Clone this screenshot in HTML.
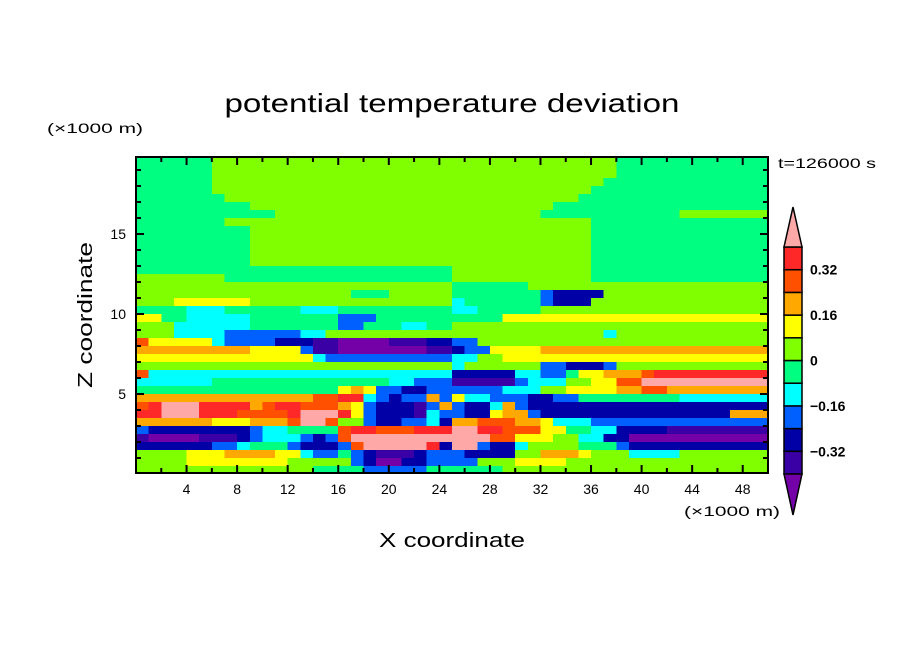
<!DOCTYPE html>
<html><head><meta charset="utf-8"><style>
html,body{margin:0;padding:0;background:#fff;}
svg{display:block;font-family:"Liberation Sans",sans-serif;}
</style></head><body>
<svg id="chart" width="904" height="654" viewBox="0 0 904 654" xmlns="http://www.w3.org/2000/svg">
<defs><clipPath id="plotclip"><rect x="136" y="157" width="632" height="316"/></clipPath></defs>
<rect x="0" y="0" width="904" height="654" fill="#fff"/>
<g id="field" clip-path="url(#plotclip)" shape-rendering="crispEdges"></g>
<g id="axes"></g>
<g id="cbar"></g>
<text x="452" y="112" text-anchor="middle" font-size="26" textLength="455" lengthAdjust="spacingAndGlyphs">potential temperature deviation</text>
<text x="47" y="133" font-size="14" textLength="96" lengthAdjust="spacingAndGlyphs">(×1000 m)</text>
<text x="684" y="516" font-size="14" textLength="96" lengthAdjust="spacingAndGlyphs">(×1000 m)</text>
<text x="452" y="547" text-anchor="middle" font-size="20" textLength="146" lengthAdjust="spacingAndGlyphs">X coordinate</text>
<text x="0" y="0" transform="translate(92,315) rotate(-90)" text-anchor="middle" font-size="20" textLength="146" lengthAdjust="spacingAndGlyphs">Z coordinate</text>
<text x="778" y="168" font-size="14" textLength="98" lengthAdjust="spacingAndGlyphs">t=126000 s</text>
</svg>
<script>
// contour levels (lower bounds of each colour class) and class colours
const levelBounds = [-0.48,-0.40,-0.32,-0.24,-0.16,-0.08,0,0.08,0.16,0.24,0.32,0.40];
const levelColors = ["#7400a8","#3a00a6","#0000a6","#0060ff","#00ffff","#00ff80","#80ff00","#ffff00","#ffa800","#ff5000","#ff2828","#ffa8a8"];
const cbarLabels = [0.32,0.16,0,-0.16,-0.32];
const xTicks = [4,8,12,16,20,24,28,32,36,40,44,48];
const yTicks = [5,10,15];
const xMin = 0, xMax = 50, zMin = 0, zMax = 19.8;
const cellDX = 1, cellDZ = 0.5, zTop = 20;
// field rows (top to bottom), run-length encoded class indices "class x count"
const fieldRows = [
"5x6,6x32,5x12","5x6,6x32,5x12","5x6,6x32,5x12","5x6,6x31,5x13",
"5x6,6x30,5x14","5x7,6x28,5x15","5x9,6x24,5x17","5x11,6x21,5x11,6x7",
"5x7,6x29,5x14","5x9,6x27,5x14","5x9,6x27,5x14","5x9,6x27,5x14",
"5x9,6x27,5x14","5x9,6x27,5x14","5x25,6x11,5x14","6x7,5x18,6x11,5x14",
"6x25,5x6,6x19","6x17,5x3,6x5,5x7,3x1,2x4,6x13","6x3,7x6,6x16,4x1,5x6,3x1,2x3,6x14",
"5x4,4x3,5x6,4x3,5x9,4x2,5x5,6x18","7x2,5x2,4x5,5x7,3x3,5x6,5x4,7x21",
"6x3,4x6,5x7,3x2,5x3,4x2,5x2,6x25","6x3,4x4,3x6,4x2,6x10,6x12,4x1,6x12",
"9x1,7x5,4x1,3x4,2x3,1x2,0x4,1x3,2x2,3x2,6x23",
"8x9,7x4,3x1,1x2,0x7,1x2,2x1,3x2,7x4,8x18",
"7x14,4x1,3x10,4x2,6x2,7x21",
"6x25,4x1,6x6,3x2,2x3,3x1,6x12",
"9x1,4x24,2x5,4x2,3x2,5x1,7x2,8x3,9x1,10x9",
"4x6,5x14,4x2,3x3,1x5,3x1,4x3,6x2,7x2,9x2,11x10",
"5x16,7x1,8x1,7x1,3x2,2x2,3x2,3x4,4x3,6x2,7x4,8x2,9x2,8x8",
"8x14,9x2,10x2,4x1,3x1,2x1,3x2,8x1,3x1,7x1,4x2,3x3,2x2,3x2,5x8,4x7",
"9x1,10x1,11x3,10x4,8x1,9x1,10x2,9x3,8x1,7x1,3x1,2x3,1x1,3x1,8x1,3x1,2x2,4x1,8x1,3x1,2x2,2x17",
"10x2,11x3,10x3,9x4,10x1,11x3,10x1,7x1,3x1,2x3,1x1,4x1,3x1,3x1,2x2,7x1,8x2,3x1,2x15,8x3",
"8x6,7x3,8x3,9x1,11x2,9x1,6x2,3x1,2x2,3x2,4x1,2x1,8x2,9x3,8x2,7x1,4x3,3x14",
"3x1,2x8,3x1,4x2,5x4,9x1,10x2,9x3,10x3,11x2,10x2,9x3,7x2,5x2,4x2,2x4,1x8",
"1x1,0x4,1x3,2x1,3x1,4x3,3x1,2x1,3x1,9x1,11x8,11x3,9x2,7x3,6x2,4x2,2x2,0x11",
"2x6,3x2,4x1,5x3,3x1,2x3,3x1,9x1,11x5,10x1,2x1,11x2,3x1,2x2,4x1,6x4,5x3,3x1,2x11",
"6x4,7x3,8x4,7x2,4x1,3x2,5x1,3x1,2x1,1x3,2x1,3x2,3x1,2x4,6x2,8x3,7x1,6x3,4x4,6x7",
"6x4,7x8,6x5,3x1,2x1,0x2,2x2,3x2,3x2,6x3,7x4,6x16",
"6x14,5x4,3x5,5x2,5x4,6x21"
];
// decode to numeric values (class midpoints)
const fieldValues = fieldRows.map(r => {
  const out = [];
  r.split(",").forEach(seg => { const [c,n] = seg.split("x").map(Number); for(let i=0;i<n;i++) out.push(levelBounds[c]+0.04); });
  return out;
});

const NS = "http://www.w3.org/2000/svg";
const X0=136, X1=768, Y0=473, Y1=157;
const xScale = v => X0 + (v - xMin) / (xMax - xMin) * (X1 - X0);
const zScale = v => 474 - (v - zMin) * 16;
function classOf(v){ let c=0; for(let i=0;i<levelBounds.length;i++){ if(v>=levelBounds[i]) c=i; } return c; }
function mk(tag, attrs, parent){ const e=document.createElementNS(NS,tag); for(const k in attrs) e.setAttribute(k,attrs[k]); parent.appendChild(e); return e; }

const field = document.getElementById("field");
fieldValues.forEach((row, k) => {
  const zt = zTop - k*cellDZ, zb = zt - cellDZ;
  let j=0;
  while(j<row.length){
    const c = classOf(row[j]); let j2=j;
    while(j2+1<row.length && classOf(row[j2+1])===c) j2++;
    const x1 = xScale(j*cellDX), x2 = xScale((j2+1)*cellDX);
    const r = mk("rect",{x:x1,y:zScale(zt),width:x2-x1+0.6,height:zScale(zb)-zScale(zt)+0.6,fill:levelColors[c]},field);
    
    
    j=j2+1;
  }
});

const axes = document.getElementById("axes");
const frame = mk("rect",{x:X0,y:Y1,width:X1-X0,height:Y0-Y1,fill:"none",stroke:"#000","stroke-width":2},axes);


for(let v=2; v<xMax; v+=2){
  const x=xScale(v), L = (v%4===0)?8:5;
  mk("line",{x1:x,y1:Y0,x2:x,y2:Y0-L,stroke:"#000","stroke-width":2},axes);
  mk("line",{x1:x,y1:Y1,x2:x,y2:Y1+L,stroke:"#000","stroke-width":2},axes);
}
xTicks.forEach(v=>{
  const t = mk("text",{x:xScale(v),y:494,"text-anchor":"middle","font-size":14},axes);
  t.textContent = v;
  
  
});
for(let v=1; v<zMax; v+=1){
  const y=zScale(v), L = (v%5===0)?8:5;
  mk("line",{x1:X0,y1:y,x2:X0+L,y2:y,stroke:"#000","stroke-width":2},axes);
  mk("line",{x1:X1,y1:y,x2:X1-L,y2:y,stroke:"#000","stroke-width":2},axes);
}
yTicks.forEach(v=>{
  const t = mk("text",{x:126,y:zScale(v)+5,"text-anchor":"end","font-size":14},axes);
  t.textContent = v;
  
  
});

const cbar = document.getElementById("cbar");
const cbTop=247, cbBot=474, cbX=784, cbW=18;
const nBox = levelColors.length-2;
const bh=(cbBot-cbTop)/nBox;
const cbY = v => cbBot - (v - levelBounds[1])/(levelBounds[levelBounds.length-1]-levelBounds[1])*(cbBot-cbTop);
for(let i=1;i<=nBox;i++){
  const b = mk("rect",{x:cbX,y:cbY(levelBounds[i+1]),width:cbW,height:bh,fill:levelColors[i],stroke:"#000","stroke-width":1.5},cbar);
  
  
}
const tt = mk("polygon",{points:`${cbX},${cbTop} ${cbX+cbW},${cbTop} ${cbX+cbW/2},207`,fill:levelColors[levelColors.length-1],stroke:"#000","stroke-width":1.5},cbar);


const tb = mk("polygon",{points:`${cbX},${cbBot} ${cbX+cbW},${cbBot} ${cbX+cbW/2},515`,fill:levelColors[0],stroke:"#000","stroke-width":1.5},cbar);


cbarLabels.forEach(v=>{
  const t = mk("text",{x:810,y:cbY(v)+5,"font-size":14,"font-weight":"bold"},cbar);
  t.textContent = v===0 ? "0" : (v<0 ? "\u2212"+Math.abs(v).toFixed(2) : v.toFixed(2));
  
  
});
</script>
</body></html>
